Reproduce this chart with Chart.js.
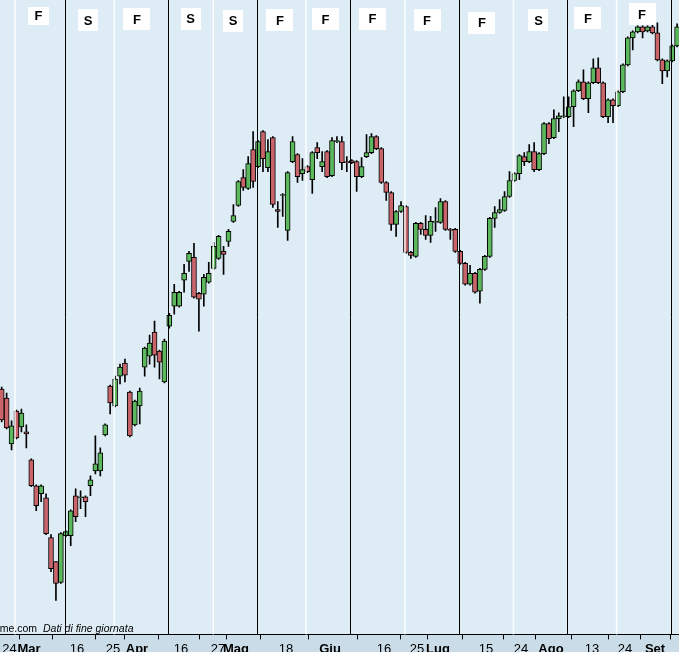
<!DOCTYPE html>
<html>
<head>
<meta charset="utf-8">
<script src="https://cdn.jsdelivr.net/npm/chart.js@4.4.0/dist/chart.umd.min.js"></script>
<style>
html,body{margin:0;padding:0;overflow:hidden;background:#c9dce8;}
#wrap{position:relative;width:679px;height:659px;}
</style>
</head>
<body>
<div id="wrap"><canvas id="c"></canvas></div>
<script>
// ---- data (daily candles, index = trading day) ----
const opens = [44.6,43.7,39.1,42.4,40.8,40.3,37.5,34.9,34.1,33.7,
29.7,27.3,25.2,29.9,29.9,33.9,33.7,33.8,34.9,36.4,
36.4,40.0,44.9,42.9,45.9,47.2,44.3,41.0,42.9,46.8,
47.9,50.3,48.4,45.3,50.9,52.9,52.9,55.5,57.4,57.8,
54.2,54.1,55.3,56.7,57.7,58.4,59.4,61.4,63.0,65.8,
64.7,68.6,66.9,70.4,66.8,69.8,62.6,64.0,60.5,67.4,
68.1,66.2,66.9,65.6,68.8,66.9,68.4,66.0,69.4,69.4,
67.4,67.5,67.4,65.9,67.9,68.3,69.9,68.7,65.3,64.3,
61.1,62.4,62.9,58.3,57.9,61.2,60.6,60.0,61.3,61.3,
63.4,60.6,60.6,58.4,57.2,55.1,56.2,54.4,56.6,57.9,
61.7,62.3,62.5,63.9,65.5,66.2,67.9,67.4,68.4,66.6,
68.2,71.2,69.8,71.7,71.9,71.9,72.9,74.5,75.4,73.7,
75.3,76.8,75.3,71.9,73.6,73.0,74.4,77.1,79.8,80.4,
80.9,80.5,80.9,80.3,77.6,76.5,77.5,79.0];
const highs = [44.8,44.2,41.4,42.5,42.6,41.0,37.6,35.0,35.0,34.1,
30.0,27.3,30.2,30.4,32.5,34.6,34.4,33.9,35.9,39.9,
38.7,41.1,45.0,45.9,47.1,47.6,44.4,43.5,44.7,48.8,
50.0,51.4,48.5,49.6,52.2,55.1,54.4,57.1,58.4,59.2,
54.3,56.1,57.3,59.3,60.0,58.9,60.6,63.1,65.5,66.6,
67.9,70.4,69.5,70.5,69.6,69.9,63.4,64.2,66.4,69.9,
68.2,67.7,67.0,68.4,69.3,68.4,68.5,69.8,69.9,69.9,
67.9,67.6,67.5,67.8,70.1,70.2,70.0,68.8,65.4,64.4,
62.5,63.4,63.0,58.4,61.3,61.3,62.0,61.9,62.8,63.7,
63.5,60.7,60.7,58.5,57.3,57.0,56.3,56.7,58.0,61.8,
62.9,63.6,64.4,66.4,66.3,68.1,68.3,69.1,69.3,68.3,
71.3,71.3,72.6,72.3,73.9,73.9,74.6,75.6,76.6,75.4,
77.7,77.8,75.4,73.7,73.7,74.5,77.2,79.9,80.5,81.0,
81.0,81.0,81.3,81.3,77.7,77.6,79.1,81.2];
const lows = [41.3,40.6,38.5,39.6,40.3,38.7,34.8,32.4,33.3,30.0,
26.3,23.4,25.1,29.8,28.9,31.3,32.6,31.8,33.9,36.1,
35.9,39.9,42.1,42.8,45.1,45.3,39.8,40.9,41.1,45.9,
47.1,46.8,45.6,45.2,50.7,52.1,52.8,54.3,56.4,53.7,
50.4,52.9,55.2,56.6,57.6,56.1,58.9,61.3,62.9,64.5,
64.6,64.8,66.8,66.4,66.4,62.8,60.8,61.9,59.5,67.3,
65.3,65.5,66.3,64.2,67.7,66.4,65.8,65.9,69.3,66.6,
66.4,67.2,64.4,65.8,67.8,68.2,68.6,65.2,63.5,60.5,
59.9,62.3,58.2,57.7,57.8,60.1,59.6,59.3,60.4,61.2,
60.5,59.6,58.3,57.1,55.0,55.0,54.2,53.2,56.5,57.8,
60.8,62.2,62.4,63.8,65.4,65.6,67.0,67.3,66.4,66.5,
68.1,69.2,69.7,70.4,71.8,71.8,70.9,74.4,73.6,72.3,
75.2,75.2,71.8,71.3,71.3,72.9,74.3,77.0,78.6,80.3,
79.8,80.4,80.2,77.5,75.2,75.9,77.4,78.9];
const closes = [41.5,40.7,40.9,39.7,42.2,40.1,34.9,32.9,34.9,30.1,
26.6,25.1,30.1,30.3,32.4,31.8,33.8,33.3,35.5,37.1,
38.2,41.0,43.2,45.6,46.8,46.0,39.9,43.4,44.4,48.7,
49.2,48.0,47.3,49.4,52.0,54.3,54.3,56.2,58.2,53.8,
53.6,55.8,56.2,58.9,59.9,58.1,60.4,62.0,65.4,64.8,
67.2,65.4,69.4,67.7,68.4,63.1,62.4,64.1,66.3,69.4,
65.9,66.6,66.4,68.3,68.3,67.4,65.9,69.5,69.5,67.3,
67.3,67.3,65.9,66.9,68.3,69.9,68.7,65.3,64.3,61.1,
62.4,63.0,58.3,58.0,61.2,60.6,60.0,61.4,61.4,63.4,
60.6,60.5,58.4,57.2,55.1,56.2,54.3,56.6,57.9,61.7,
62.3,62.6,63.9,65.5,66.2,68.0,67.4,68.4,66.6,68.2,
71.2,69.7,71.7,72.0,72.0,72.9,74.5,75.4,73.7,75.3,
76.8,75.3,71.9,73.6,73.0,74.4,77.1,79.8,80.4,80.9,
80.4,80.9,80.3,77.6,76.5,77.5,79.0,80.9];

// x-axis tick positions (trading-day index) and their labels
const tickPositions = [1.58,5.54,15.27,22.58,27.44,36.37,43.87,47.52,57.67,66.59,77.55,84.24,88.5,98.24,105.33,111.42,119.74,126.43,132.52];
const tickLabels = ['24','Mar','16','25','Apr','16','27','Mag','18','Giu','16','25','Lug','15','24','Ago','13','24','Set'];
const monthLabels = ['Mar','Apr','Mag','Giu','Lug','Ago','Set'];

// vertical marker lines (trading-day index)
const blackLines = [12.9,33.79,51.85,70.65,92.82,114.73,135.86];
const whiteLines = [2.7,22.84,42.92,61.72,81.8,103.8,124.73];

// event markers
const markerPositions = [7.46,17.5,27.44,38.3,46.92,56.45,65.68,75.21,86.27,97.42,108.88,118.92,129.88];
const markerLetters = ['F','S','F','S','S','F','F','F','F','F','S','F','F'];

// ---- styles ----
const PLOT_BG = '#deedf5';
const BAND_BG = '#c9dce8';
const UP = '#5cb85c';
const DOWN = '#c8646a';
const FONT = '"Liberation Sans", Arial, sans-serif';
const markerY = [15.5,20,19,18.5,20.5,20,19,18.5,20,22.5,20,18,14];

const bodyData = opens.map((o, i) => ({x: i, y: [o, closes[i]]}));
const wickData = lows.map((l, i) => ({x: i, y: [l, highs[i]]}));
const bodyColors = opens.map((o, i) => closes[i] >= o ? UP : DOWN);

const decor = {
  id: 'decor',
  beforeDraw(chart) {
    const {ctx, chartArea: a, width, height} = chart;
    ctx.save();
    ctx.fillStyle = BAND_BG;
    ctx.fillRect(0, 0, width, height);
    ctx.fillStyle = PLOT_BG;
    ctx.fillRect(a.left, a.top, a.right - a.left, a.bottom - a.top);
    ctx.restore();
  },
  afterDatasetsDraw(chart) {
    const {ctx, chartArea: a} = chart;
    const x = chart.scales.x;
    ctx.save();
    ctx.strokeStyle = 'rgba(255,255,255,0.9)';
    ctx.lineWidth = 1.5;
    whiteLines.forEach(v => {
      const px = x.getPixelForValue(v);
      ctx.beginPath(); ctx.moveTo(px, a.top); ctx.lineTo(px, a.bottom); ctx.stroke();
    });
    ctx.strokeStyle = '#000';
    ctx.lineWidth = 1;
    blackLines.forEach(v => {
      const px = Math.round(x.getPixelForValue(v)) + 0.5;
      ctx.beginPath(); ctx.moveTo(px, a.top); ctx.lineTo(px, a.bottom); ctx.stroke();
    });
    // footnote
    ctx.fillStyle = '#000';
    ctx.textBaseline = 'alphabetic';
    ctx.font = '10.5px ' + FONT;
    ctx.textAlign = 'right';
    ctx.fillText('me.com', 37, a.bottom - 2);
    ctx.font = 'italic 10.5px ' + FONT;
    ctx.textAlign = 'left';
    ctx.fillText('Dati di fine giornata', 43, a.bottom - 2);
    // markers
    markerPositions.forEach((v, i) => {
      const cx = x.getPixelForValue(v);
      const cy = markerY[i];
      const letter = markerLetters[i];
      const w = letter === 'F' ? (i === 0 ? 21 : 27) : 20;
      const h = i === 0 ? 18 : 22;
      ctx.fillStyle = '#ffffff';
      ctx.fillRect(Math.round(cx - w / 2), Math.round(cy - h / 2), w, h);
      ctx.fillStyle = '#000';
      ctx.font = 'bold 13px ' + FONT;
      ctx.textAlign = 'center';
      ctx.textBaseline = 'middle';
      ctx.fillText(letter, cx, cy + 1);
    });
    ctx.restore();
  }
};

const spacing = 4.93;
const xMin = -1.7 / spacing;
const xMax = xMin + 679 / spacing;

new Chart(document.getElementById('c'), {
  type: 'bar',
  data: {
    datasets: [
      {
        label: 'body',
        data: bodyData,
        backgroundColor: bodyColors,
        borderColor: '#000',
        borderWidth: 1,
        borderSkipped: false,
        barThickness: 5,
        grouped: false,
        order: 0
      },
      {
        label: 'wick',
        data: wickData,
        backgroundColor: '#000',
        borderWidth: 0,
        barThickness: 1,
        grouped: false,
        order: 1
      }
    ]
  },
  options: {
    responsive: true,
    maintainAspectRatio: false,
    devicePixelRatio: 1,
    animation: false,
    layout: {padding: 0},
    plugins: {legend: {display: false}, tooltip: {enabled: false}},
    scales: {
      x: {
        type: 'linear',
        offset: false,
        bounds: 'data',
        min: xMin,
        max: xMax,
        afterBuildTicks: (scale) => { scale.ticks = tickPositions.map(v => ({value: v})); },
        grid: {display: true, drawOnChartArea: false, drawTicks: true, tickLength: 5, color: '#000', lineWidth: 1},
        border: {display: true, color: '#000', width: 1},
        ticks: {
          autoSkip: false,
          maxRotation: 0,
          minRotation: 0,
          padding: 2,
          color: '#000',
          font: (ctx) => ({family: FONT, size: 13, weight: monthLabels.includes(tickLabels[ctx.index]) ? 'bold' : 'normal'}),
          callback: (value, index) => tickLabels[index]
        }
      },
      y: {
        display: false,
        min: 20,
        max: 83.6
      }
    }
  },
  plugins: [decor]
});
</script>
</body>
</html>
